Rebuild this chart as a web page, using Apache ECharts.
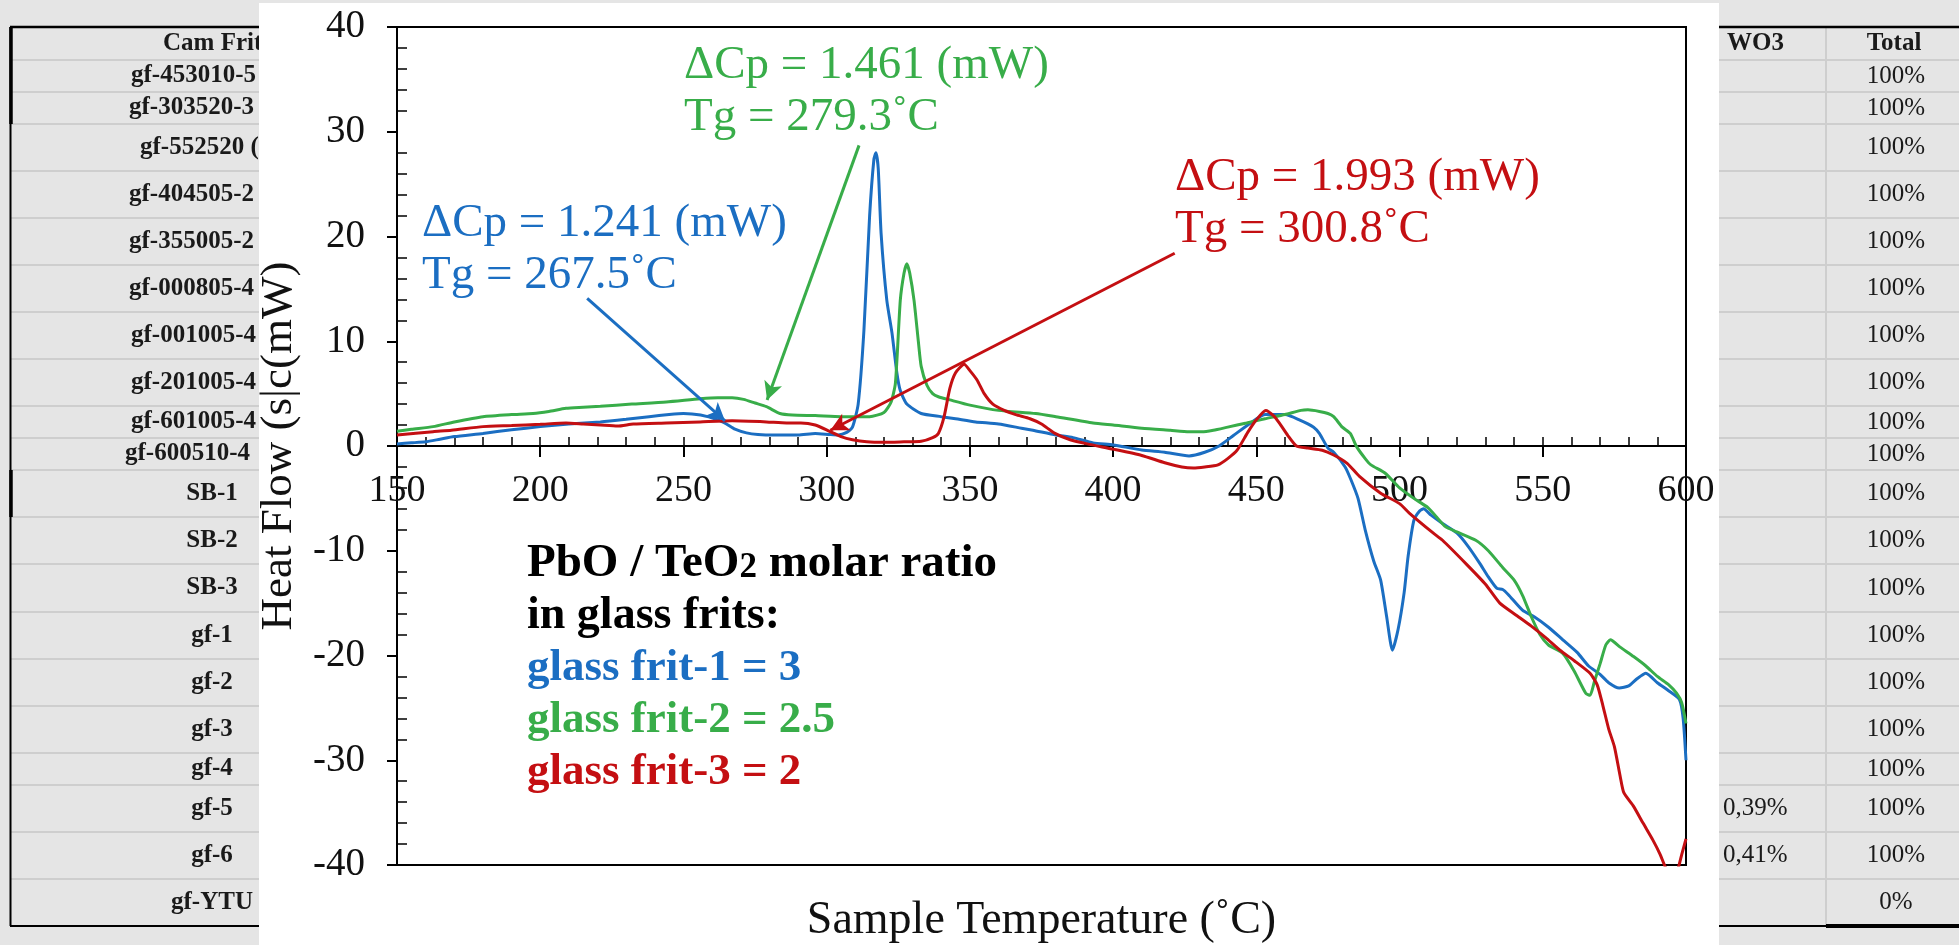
<!DOCTYPE html>
<html>
<head>
<meta charset="utf-8">
<title>DSC heat flow of glass frits</title>
<script src="https://cdn.jsdelivr.net/npm/echarts@6/dist/echarts.min.js"></script>
<style>
  html, body { margin: 0; padding: 0; background: #e5e5e5; }
  #chart { width: 1959px; height: 945px; }
</style>
</head>
<body>
<div id="chart"></div>
<script>
// ---- DSC curves: [sample temperature (°C), heat flow (mW)] ----
const frit1 = [
  [150,0.2],[155,0.3],[160,0.4],[165,0.65],[170,0.9],[180,1.2],[190,1.55],[200,1.85],[210,2.1],[221,2.3],
  [230,2.55],[238,2.8],[245,3.0],[250,3.1],[256,2.95],[262,2.5],[265,2.1],[268,1.6],[272,1.25],[276,1.1],
  [282,1.05],[290,1.05],[296,1.2],[301,1.1],[304,1.05],[307,1.3],[309,1.8],[311,4.0],[313,11.0],[315,22.0],
  [316.5,27.4],[317.2,28.0],[318,26.5],[319,20.3],[321,13.9],[322.8,10.8],[324.5,7.0],[325.7,5.3],[328,4.0],
  [333,3.1],[340,2.8],[345,2.6],[352,2.3],[360,2.1],[368,1.7],[372,1.5],[380,1.05],[386,0.8],[393,0.3],
  [400,0.1],[410,-0.38],[418,-0.6],[426.5,-0.95],[432,-0.6],[437,0.0],[442,1.0],[448,2.2],[453,3.0],[460,3.0],
  [465,2.5],[470,1.8],[472,1.2],[475,-0.2],[477,-0.6],[481,-2.0],[483,-3.2],[485.5,-5.0],[488,-8.0],[491,-11.0],
  [493.4,-12.8],[495.5,-16.3],[497.5,-19.5],[499.5,-17.5],[501.6,-14.0],[503,-10.5],[505,-7.1],[507,-6.2],
  [508.4,-6.0],[511,-6.6],[515,-7.4],[520,-8.3],[524,-9.6],[528,-11.2],[531,-12.5],[534,-13.6],[536,-13.7],
  [538,-14.2],[543,-15.7],[547,-16.3],[552,-17.3],[557,-18.5],[562,-19.7],[566,-21.0],[570,-21.8],[573,-22.6],
  [576.7,-23.1],[580,-22.9],[583,-22.2],[586,-21.7],[590,-22.6],[593.6,-23.3],[597.7,-24.2],[599,-26.0],[600,-30.0]
];
const frit2 = [
  [150,1.4],[155,1.6],[162.6,1.85],[170,2.3],[180,2.8],[190,3.0],[197.5,3.1],[203,3.3],[209,3.6],[215,3.7],
  [221,3.8],[232,4.0],[244,4.2],[255.8,4.5],[262,4.6],[267,4.6],[271,4.45],[275,4.1],[279,3.75],[283.7,3.1],
  [288,2.95],[296,2.9],[305,2.8],[315,2.8],[320,3.2],[322.5,4.2],[324,6.0],[325.7,13.9],[327,16.5],[328,17.4],
  [329,16.5],[330.5,13.9],[332,10.0],[333,7.6],[335,5.8],[337,5.0],[339,4.7],[343,4.4],[350,3.9],[360,3.4],
  [373,3.1],[380,2.8],[393,2.2],[400,2.0],[410,1.7],[420,1.5],[426.5,1.37],[431,1.35],[435,1.5],[440,1.8],
  [446.6,2.2],[453,2.6],[460,3.0],[465.6,3.4],[468,3.45],[472,3.3],[475,3.1],[477,2.8],[480,1.8],[482.8,1.2],
  [485,-0.06],[488,-1.2],[490,-1.8],[495,-2.6],[500,-4.0],[505,-5.0],[510,-5.9],[513,-6.8],[516,-7.7],[520,-8.2],
  [526.6,-9.0],[531,-10.0],[536,-11.6],[540,-12.8],[543,-14.3],[546,-16.3],[549,-18.0],[552,-19.0],[557,-19.8],
  [561,-21.5],[565,-23.6],[566.5,-23.8],[568,-22.5],[570,-20.8],[572,-19.0],[573.6,-18.5],[577,-19.2],
  [581.7,-20.1],[586,-21.0],[590,-22.0],[594,-22.8],[596.7,-23.6],[598.5,-24.5],[600,-26.5]
];
const frit3 = [
  [150,1.05],[162.6,1.37],[169,1.5],[180,1.85],[190,1.95],[200,2.07],[209,2.2],[215,2.1],[221,2.0],[227,1.9],
  [232.5,2.1],[244,2.2],[255.8,2.3],[267,2.4],[279,2.3],[286,2.2],[291,2.2],[296,2.0],[301,1.4],[305,0.9],
  [309,0.6],[314,0.4],[320,0.35],[327,0.4],[333,0.45],[337,0.8],[339,1.2],[341,2.8],[343,5.5],[345,7.0],
  [348,7.8],[350,7.2],[352.5,6.3],[355,5.0],[358,4.0],[362,3.4],[366,3.0],[371,2.6],[375,2.1],[379.7,1.2],
  [385,0.6],[391,0.2],[400,-0.3],[410,-0.9],[418,-1.6],[424,-2.0],[428,-2.1],[432,-2.0],[436.6,-1.8],[440,-1.2],
  [443.3,-0.4],[447,1.3],[450,2.5],[453.3,3.4],[456,2.9],[458,2.2],[461,1.0],[464,0.0],[468,-0.2],[473,-0.4],
  [477,-0.86],[481.7,-1.65],[486,-2.9],[493.4,-4.5],[500,-5.5],[503.4,-6.4],[511.7,-8.3],[515,-9.0],
  [523.4,-11.3],[530,-13.2],[535,-15.0],[541,-16.2],[546,-17.2],[551,-18.3],[556,-19.5],[561,-20.5],
  [566.5,-21.7],[569,-22.8],[571,-24.8],[573,-27.0],[575,-28.7],[577,-31.5],[578.3,-33.1],[581.7,-34.4],
  [585,-36.0],[588.4,-37.6],[591,-39.0],[593,-40.3],[595,-40.8],[597,-40.5],[598.5,-39.0],[600,-37.5]
];

// Glass transition callouts: arrow from label to the Tg point, in data coordinates
const tgArrow1 = [[216.4, 14.1], [264.5, 2.4]];
const tgArrow2 = [[311.3, 28.7], [279.2, 4.4]];
const tgArrow3 = [[421.5, 18.4], [301.3, 1.5]];
const tgText1 = ['ΔCp = 1.241 (mW)', 'Tg = 267.5˚C'];
const tgText2 = ['ΔCp = 1.461 (mW)', 'Tg = 279.3˚C'];
const tgText3 = ['ΔCp = 1.993 (mW)', 'Tg = 300.8˚C'];

const legendTitle = ['PbO / TeO', '2', ' molar ratio', 'in glass frits:'];
const legendLines = ['glass frit-1 = 3', 'glass frit-2 = 2.5', 'glass frit-3 = 2'];

// ---- spreadsheet behind the plot ----
const tableHeader = ['Cam Frit', 'WO3', 'Total'];
const fritNames = ['gf-453010-5','gf-303520-3','gf-552520 (','gf-404505-2','gf-355005-2','gf-000805-4',
  'gf-001005-4','gf-201005-4','gf-601005-4','gf-600510-4','SB-1','SB-2','SB-3','gf-1','gf-2','gf-3',
  'gf-4','gf-5','gf-6','gf-YTU'];
const wo3Share = ['','','','','','','','','','','','','','','','','','0,39%','0,41%',''];
const totalShare = ['100%','100%','100%','100%','100%','100%','100%','100%','100%','100%','100%','100%',
  '100%','100%','100%','100%','100%','100%','100%','0%'];

const BLUE = '#1b6ec2', GREEN = '#38ad49', RED = '#c40f12';
const SERIF = '"Liberation Serif", "Times New Roman", serif';

// plot frame (pixels)
const GRID = { left: 397, top: 27, width: 1289, height: 838 };
const Y_MIN = -40, Y_MAX = 40;
// distance of the zero line above the bottom of the frame
const zeroOffset = GRID.height * (0 - Y_MIN) / (Y_MAX - Y_MIN);

// table geometry (pixels)
const rowEdges = [27,60,92,124,171,218,265,312,359,406,438,470,517,564,612,659,706,753,785,832,879,926];
const nameLeft = [131,129,140,129,129,129,131,131,131,125];

const graphics = [];
// row separators
rowEdges.slice(1, -1).forEach(y => graphics.push({
  type: 'line', z: -30, shape: { x1: 11, y1: y, x2: 1959, y2: y },
  style: { stroke: '#cecece', lineWidth: 2 }
}));
graphics.push({ type: 'line', z: -30, shape: { x1: 1826, y1: 27, x2: 1826, y2: 926 },
  style: { stroke: '#cecece', lineWidth: 2 } });
// borders
graphics.push({ type: 'line', z: -25, shape: { x1: 10, y1: 27, x2: 1959, y2: 27 }, style: { stroke: '#000', lineWidth: 2.5 } });
graphics.push({ type: 'line', z: -25, shape: { x1: 10, y1: 926, x2: 1959, y2: 926 }, style: { stroke: '#000', lineWidth: 2 } });
graphics.push({ type: 'line', z: -25, shape: { x1: 1826, y1: 926, x2: 1959, y2: 926 }, style: { stroke: '#000', lineWidth: 4 } });
graphics.push({ type: 'line', z: -25, shape: { x1: 10.5, y1: 27, x2: 10.5, y2: 926 }, style: { stroke: '#000', lineWidth: 2 } });
graphics.push({ type: 'line', z: -25, shape: { x1: 11, y1: 27, x2: 11, y2: 124 }, style: { stroke: '#000', lineWidth: 3.5 } });
graphics.push({ type: 'line', z: -25, shape: { x1: 11, y1: 470, x2: 11, y2: 517 }, style: { stroke: '#000', lineWidth: 3.5 } });

function cellText(text, x, y, align, bold) {
  return {
    type: 'text', z: -20,
    style: {
      text: text, x: x, y: y, fill: '#1a1a1a',
      font: (bold ? 'bold ' : '') + '25px ' + SERIF,
      textAlign: align, textVerticalAlign: 'middle'
    }
  };
}
const headerY = (rowEdges[0] + rowEdges[1]) / 2;
graphics.push(cellText(tableHeader[0], 163, headerY, 'left', true));
graphics.push(cellText(tableHeader[1], 1727, headerY, 'left', true));
graphics.push(cellText(tableHeader[2], 1894, headerY, 'center', true));
fritNames.forEach((name, i) => {
  const y = (rowEdges[i + 1] + rowEdges[i + 2]) / 2;
  if (i < nameLeft.length) graphics.push(cellText(name, nameLeft[i], y, 'left', true));
  else graphics.push(cellText(name, 212, y, 'center', true));
  if (wo3Share[i]) graphics.push(cellText(wo3Share[i], 1723, y, 'left', false));
  graphics.push(cellText(totalShare[i], 1896, y, 'center', false));
});

// white sheet the plot sits on
graphics.push({ type: 'rect', z: -10, shape: { x: 259, y: 3, width: 1460, height: 942 },
  style: { fill: '#ffffff' } });

// callout labels
function calloutText(lines, x, y, color) {
  return lines.map((t, k) => ({
    type: 'text', z: 50,
    style: { text: t, x: x, y: y + k * 52, fill: color, font: '47px ' + SERIF,
      textAlign: 'left', textVerticalAlign: 'middle' }
  }));
}
graphics.push(...calloutText(tgText1, 422, 224, BLUE));
graphics.push(...calloutText(tgText2, 684, 66, GREEN));
graphics.push(...calloutText(tgText3, 1175, 178, RED));

// composition key
graphics.push({
  type: 'text', z: 50,
  style: {
    text: '{b|' + legendTitle[0] + '}{s|' + legendTitle[1] + '}{b|' + legendTitle[2] + '}',
    x: 527, y: 564, textAlign: 'left', textVerticalAlign: 'middle',
    rich: {
      b: { font: 'bold 47px ' + SERIF, fill: '#000' },
      s: { font: 'bold 35px ' + SERIF, fill: '#000', verticalAlign: 'bottom', padding: [0, 0, 2, 0] }
    }
  }
});
graphics.push({ type: 'text', z: 50, style: { text: legendTitle[3], x: 527, y: 616, fill: '#000',
  font: 'bold 46px ' + SERIF, textAlign: 'left', textVerticalAlign: 'middle' } });
[BLUE, GREEN, RED].forEach((c, k) => graphics.push({
  type: 'text', z: 50,
  style: { text: legendLines[k], x: 527, y: 668 + k * 52, fill: c, font: 'bold 45px ' + SERIF,
    textAlign: 'left', textVerticalAlign: 'middle' }
}));

function arrow(pts, color) {
  return {
    silent: true, symbol: ['none', 'arrow'], symbolSize: [14, 18],
    lineStyle: { color: color, width: 3, type: 'solid' },
    label: { show: false },
    data: [[{ coord: pts[0] }, { coord: pts[1] }]]
  };
}
function curve(name, data, color, pts) {
  return {
    name: name, type: 'line', data: data, xAxisIndex: 0, yAxisIndex: 0,
    showSymbol: false, smooth: 0.2, clip: true,
    lineStyle: { color: color, width: 3 }, itemStyle: { color: color },
    markLine: arrow(pts, color)
  };
}

const chart = echarts.init(document.getElementById('chart'), null, { renderer: 'canvas' });
chart.setOption({
  animation: false,
  backgroundColor: '#e5e5e5',
  grid: Object.assign({}, GRID, { show: true, containLabel: false, outerBoundsMode: 'none',
    borderColor: '#000', borderWidth: 2, backgroundColor: 'transparent' }),
  xAxis: [
    {
      // temperature axis drawn across the zero heat-flow line
      type: 'value', min: 150, max: 600, interval: 50, position: 'bottom', offset: -zeroOffset,
      axisLine: { onZero: false, lineStyle: { color: '#000', width: 2 } },
      axisTick: { inside: false, length: 11, lineStyle: { color: '#000', width: 2 } },
      axisLabel: { margin: 26, fontFamily: SERIF, fontSize: 38, color: '#111' },
      splitLine: { show: false },
      name: 'Sample Temperature (˚C)', nameLocation: 'middle', nameGap: 452,
      nameTextStyle: { fontFamily: SERIF, fontSize: 46, color: '#111' }
    },
    {
      // upward ticks every 10 °C on the same line
      type: 'value', min: 150, max: 600, interval: 10, position: 'bottom', offset: -zeroOffset,
      axisLine: { onZero: false, show: false },
      axisTick: { show: true, inside: true, length: 9, lineStyle: { color: '#000', width: 1.5 } },
      axisLabel: { show: false }, splitLine: { show: false }
    }
  ],
  yAxis: [
    {
      type: 'value', min: Y_MIN, max: Y_MAX, interval: 10, position: 'left',
      axisLine: { onZero: false, lineStyle: { color: '#000', width: 2 } },
      axisTick: { inside: false, length: 10, lineStyle: { color: '#000', width: 2 } },
      minorTick: { show: true, splitNumber: 5, length: -10, lineStyle: { color: '#000', width: 1.5 } },
      axisLabel: { margin: 32, fontFamily: SERIF, fontSize: 39, color: '#111' },
      splitLine: { show: false },
      name: 'Heat Flow (s|c(mW)', nameLocation: 'middle', nameGap: 92,
      nameTextStyle: { fontFamily: SERIF, fontSize: 45, color: '#111' }
    }
  ],
  series: [
    curve('glass frit-1', frit1, BLUE, tgArrow1),
    curve('glass frit-2', frit2, GREEN, tgArrow2),
    curve('glass frit-3', frit3, RED, tgArrow3)
  ],
  graphic: { elements: graphics }
});
</script>
</body>
</html>
